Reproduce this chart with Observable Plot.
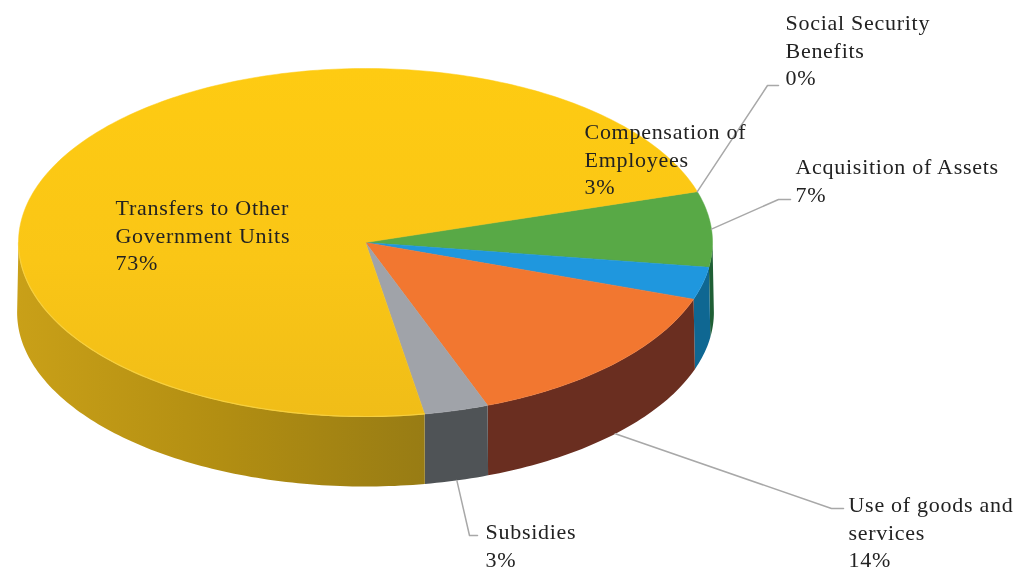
<!DOCTYPE html>
<html>
<head>
<meta charset="utf-8">
<script src="https://cdn.jsdelivr.net/npm/d3@7"></script>
<script src="https://cdn.jsdelivr.net/npm/@observablehq/plot@0.6"></script>
<style>
html,body{margin:0;padding:0;background:#fff}
svg{display:block;filter:blur(0.45px)}
</style>
</head>
<body>
<script>
// Data, clockwise from the start of the first slice
const categories = ["Social Security Benefits","Acquisition of Assets","Compensation of Employees","Use of goods and services","Subsidies","Transfers to Other Government Units"];
const shares = [0,7,3,14,3,73];
const labelTexts = ["Social Security\nBenefits\n0%","Acquisition of Assets\n7%","Compensation of\nEmployees\n3%","Use of goods and\nservices\n14%","Subsidies\n3%","Transfers to Other\nGovernment Units\n73%"];

// Styles
const topColors = ["#a5a5a5","#58a946","#1f97de","#f27730","#a0a3a9","url(#yellowTop)"];
const sideColors = ["#333","#1f5f35","#0f6792","#6a2e20","#4f5356","url(#yellowSide)"];

// Layout: start angle of the pie (deg), thickness in pie units, and pixel frame of the top ellipse
const startAngle = 17, thickness = 70 / 174, bottomFlare = 1.004;
const frame = {left: 18, right: 712, top: 68, bottom: 416};
const ux = px => (px - (frame.left + frame.right) / 2) / ((frame.right - frame.left) / 2);
const uy = py => ((frame.top + frame.bottom) / 2 - py) / ((frame.bottom - frame.top) / 2);

// label block anchor (pixels): left edge and vertical centre
const labelX = [785,795,584,848,485,115];
const labelY = [48.5,178.5,157.5,530.5,543.5,233.5];
// leader elbows (pixels) and whether the leader starts on the bottom rim; null = no leader
const leaderElbow = [[[767,85],[778,85]],[[778,199],[790,199]],null,[[831,508],[843,508]],[[469,535],[477,535]],null];
const leaderOnSide = [false,false,false,true,true,false];

// Angles derived from the shares
let acc = startAngle;
const slices = categories.map((name,i)=>{
  const a0 = acc; acc -= shares[i]*3.6;
  return {name, i, a0, a1: acc, mid:(a0+acc)/2};
});
const rad = d=>d*Math.PI/180;
const rim = (a,drop=0)=>({x:Math.cos(rad(a))*(drop?bottomFlare:1), y:Math.sin(rad(a))-drop});
const arc = (a0,a1,drop=0)=>{
  const n = Math.max(1,Math.ceil(Math.abs(a0-a1)));
  return d3.range(n+1).map(k=>rim(a0+(a1-a0)*k/n,drop));
};

const topRows = slices.flatMap(s=>[{x:0,y:0},...arc(s.a0,s.a1),{x:0,y:0}].map(p=>({...p,key:s.name})));
const sideRows = slices.flatMap(s=>{
  const hi=Math.min(s.a0,0), lo=Math.max(s.a1,-180);
  if(hi<=lo) return [];
  return [...arc(hi,lo),...arc(lo,hi,thickness)].map(p=>({...p,key:s.name+" side"}));
});
const yellow = slices[slices.length-1];
const highlightRows = arc(yellow.a0,-180);
const leaderRows = slices.flatMap(s=>{
  const el = leaderElbow[s.i];
  if(!el) return [];
  const a = rim(s.mid, leaderOnSide[s.i]?thickness:0);
  return [a,...el.map(([x,y])=>({x:ux(x),y:uy(y)}))].map(p=>({...p,key:s.name}));
});
const labelRows = slices.map(s=>({x:ux(labelX[s.i]),y:uy(labelY[s.i]),text:labelTexts[s.i]}));

const plot = Plot.plot({
  width:1032, height:572,
  marginTop:0, marginRight:0, marginBottom:0, marginLeft:0,
  x:{domain:[-1,1],range:[frame.left,frame.right],axis:null},
  y:{domain:[-1,1],range:[frame.bottom,frame.top],axis:null},
  color:{domain:[...categories.map(c=>c+" side"),...categories],range:[...sideColors,...topColors]},
  style:{background:"#fff",letterSpacing:"0.72px"},
  marks:[
    Plot.line(sideRows,{x:"x",y:"y",z:"key",fill:"key",stroke:null}),
    Plot.line(topRows,{x:"x",y:"y",z:"key",fill:"key",stroke:"key",strokeWidth:0.5}),
    Plot.line(highlightRows,{x:"x",y:"y",stroke:"#f6cf3e",strokeWidth:1.2}),
    Plot.line(leaderRows,{x:"x",y:"y",z:"key",stroke:"#a8a8a8",strokeWidth:1.5}),
    Plot.text(labelRows,{x:"x",y:"y",text:"text",textAnchor:"start",lineAnchor:"middle",lineHeight:1.25,fontSize:22,fontFamily:"Liberation Serif",fill:"#222"})
  ]
});
d3.select(plot).insert("defs",":first-child").html(
 `<linearGradient id="yellowSide" x1="0" x2="1" y1="0" y2="0">
   <stop offset="0" stop-color="#c9a018"/><stop offset="0.5" stop-color="#b28e12"/><stop offset="1" stop-color="#987c14"/>
  </linearGradient>
  <linearGradient id="yellowTop" x1="0" x2="0" y1="0" y2="1">
   <stop offset="0" stop-color="#fecb12"/><stop offset="0.55" stop-color="#fac616"/><stop offset="1" stop-color="#f0bd18"/>
  </linearGradient>`);
document.body.appendChild(plot);
</script>
</body>
</html>
